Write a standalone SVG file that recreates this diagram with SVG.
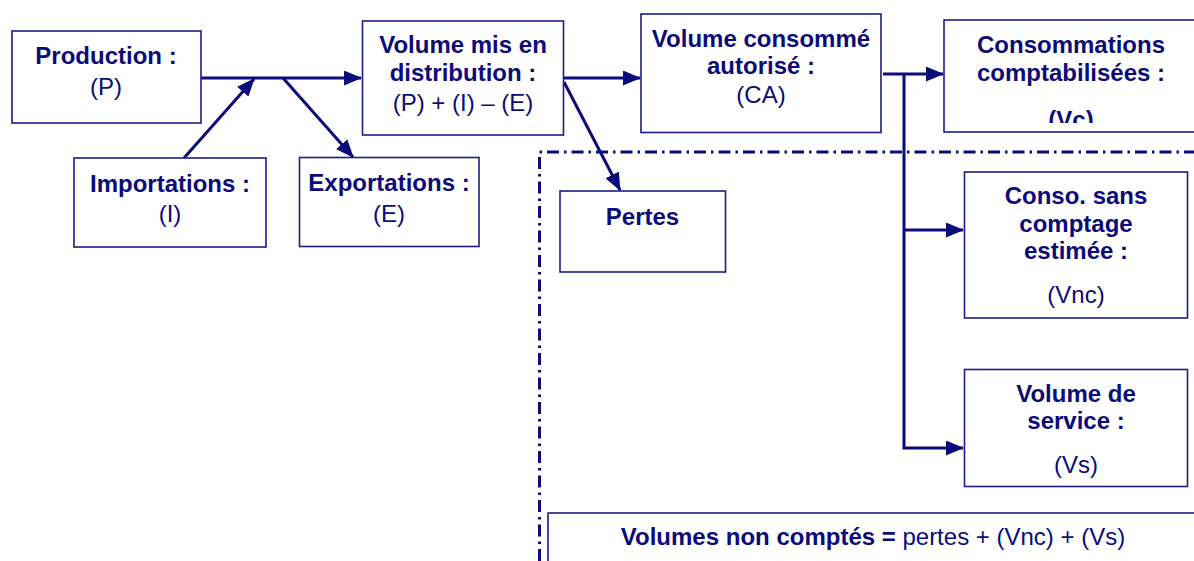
<svg xmlns="http://www.w3.org/2000/svg" width="1194" height="561" viewBox="0 0 1194 561">
<style>
.box{fill:#fff;stroke:#1c1c84;stroke-width:1.6}
.t{font-family:"Liberation Sans",Arial,sans-serif;font-size:24px;fill:#0b0b7a;text-anchor:middle}
.b{font-weight:bold}
.c{fill:none;stroke:#0b0b7a;stroke-width:3}
.dash{fill:none;stroke:#0b0b7a;stroke-width:3;stroke-dasharray:12 5 2.5 5}
</style>
<defs>
<marker id="ah" markerUnits="userSpaceOnUse" markerWidth="19" markerHeight="15" refX="17" refY="7.5" orient="auto">
<path d="M0,0 L18,7.5 L0,15 z" fill="#0b0b7a"/>
</marker>
<clipPath id="vcclip"><rect x="944" y="20" width="260" height="103"/></clipPath>
</defs>
<rect width="1194" height="561" fill="#fff"/>

<g id="zone">
<path class="dash" d="M539.5,561 L539.5,152 L1194,152"/>
</g>

<g id="connectors">
<path class="c" d="M201,78 L361,78" marker-end="url(#ah)"/>
<path class="c" d="M184,158 L254,79" marker-end="url(#ah)"/>
<path class="c" d="M283,78 L353,157" marker-end="url(#ah)"/>
<path class="c" d="M564,78 L640,78" marker-end="url(#ah)"/>
<path class="c" d="M564,82 L620,190" marker-end="url(#ah)"/>
<path class="c" d="M883,74 L943,74" marker-end="url(#ah)"/>
<path class="c" d="M904,74 L904,448 L963,448" marker-end="url(#ah)"/>
<path class="c" d="M904,230 L963,230" marker-end="url(#ah)"/>
</g>

<g id="production">
<rect class="box" x="12" y="31" width="189" height="92"/>
<text class="t b" x="106" y="64">Production :</text>
<text class="t" x="106" y="95">(P)</text>
</g>

<g id="importations">
<rect class="box" x="74" y="158" width="192" height="89"/>
<text class="t b" x="170" y="192">Importations :</text>
<text class="t" x="170" y="222">(I)</text>
</g>

<g id="exportations">
<rect class="box" x="299.5" y="157.5" width="179.5" height="89"/>
<text class="t b" x="389" y="191">Exportations :</text>
<text class="t" x="389" y="222">(E)</text>
</g>

<g id="distribution">
<rect class="box" x="362.5" y="21" width="201" height="114"/>
<text class="t b" x="463" y="53">Volume mis en</text>
<text class="t b" x="463" y="81">distribution :</text>
<text class="t" x="463" y="111">(P) + (I) – (E)</text>
</g>

<g id="consomme">
<rect class="box" x="641" y="14" width="240" height="118.5"/>
<text class="t b" x="761" y="47">Volume consommé</text>
<text class="t b" x="761" y="74">autorisé :</text>
<text class="t" x="761" y="103">(CA)</text>
</g>

<g id="comptabilisees">
<rect class="box" x="944" y="20" width="262" height="112"/>
<text class="t b" x="1071" y="53">Consommations</text>
<text class="t b" x="1071" y="81">comptabilisées :</text>
<text class="t b" x="1071" y="128" clip-path="url(#vcclip)">(Vc)</text>
</g>

<g id="pertes">
<rect class="box" x="560" y="191" width="165.5" height="81"/>
<text class="t b" x="642.5" y="225">Pertes</text>
</g>

<g id="sanscomptage">
<rect class="box" x="964.5" y="172" width="223" height="146"/>
<text class="t b" x="1076" y="204">Conso. sans</text>
<text class="t b" x="1076" y="232">comptage</text>
<text class="t b" x="1076" y="259">estimée :</text>
<text class="t" x="1076" y="303">(Vnc)</text>
</g>

<g id="service">
<rect class="box" x="964.5" y="369.5" width="223" height="117"/>
<text class="t b" x="1076" y="402">Volume de</text>
<text class="t b" x="1076" y="429">service :</text>
<text class="t" x="1076" y="473">(Vs)</text>
</g>

<g id="noncomptes">
<rect class="box" x="548" y="513" width="660" height="60"/>
<text class="t" x="873" y="545"><tspan class="b">Volumes non comptés =</tspan> pertes + (Vnc) + (Vs)</text>
</g>
</svg>
